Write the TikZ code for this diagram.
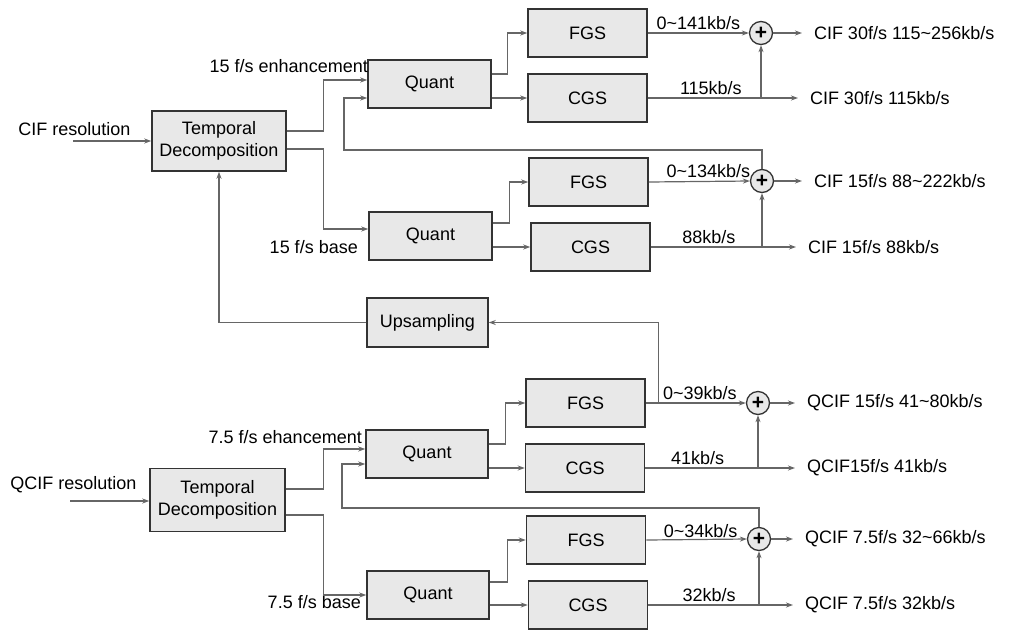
\documentclass[tikz,border=0pt]{standalone}
\usepackage{fontspec}
\setmainfont{Liberation Sans}
\usetikzlibrary{calc,arrows,arrows.meta,positioning}
\tikzset{
    >={Stealth[length=7pt,width=5pt]},
    block/.style={
        rectangle,
        draw=black!80, line width=1.5pt,
        fill=gray!18,
        minimum width=119pt,
        minimum height=48pt,
        text centered
    },
    sum/.style={circle, draw=black!80, line width=1.3pt, fill=gray!18,
        minimum size=23pt, inner sep=0pt, font=\fontsize{21}{21}\selectfont\bfseries},
    line/.style={draw=black!60, line width=1.2pt},
    arr/.style={line, ->},
    lbl/.style={inner sep=0pt, anchor=base},
    rate/.style={inner sep=0pt, anchor=base, yshift=4pt},
    outlbl/.style={anchor=west, inner sep=0pt, outer xsep=12pt}
}

\begin{document}
\begin{tikzpicture}[x=1pt, y=-1pt, font=\fontsize{18}{22}\selectfont]
\useasboundingbox (0,0) rectangle (1012,630);

% CIF part
\node[block, minimum width=134pt, minimum height=60pt, align=center] (tdcif) at (219,141) {Temporal\\Decomposition};
\node[block, minimum width=123pt] (qenh) at (429.5,84) {Quant};
\node[block, minimum width=123pt] (qbase) at (430.5,236) {Quant};
\node[block] (fgsa) at (587.5,33) {FGS};
\node[block] (cgsa) at (587.5,98) {CGS};
\node[block] (fgsb) at (588.5,182) {FGS};
\node[block] (cgsb) at (590.5,247) {CGS};
\node[sum] (suma) at (761,33) {+};
\node[sum] (sumb) at (762,181) {+};
\node[block, minimum width=121pt, minimum height=49pt] (upsamp) at (427.5,322.5) {Upsampling};

\node[lbl] (cifres) at (74.5,135) {CIF resolution};
\node[lbl, anchor=base east] (enhcif) at (368,72) {15 f/s enhancement};
\node[lbl, anchor=base east] (basecif) at (358,253) {15 f/s base};
\node[outlbl] (outa) at (802,33) {CIF 30f/s 115\textasciitilde256kb/s};
\node[outlbl] (outb) at (798,98) {CIF 30f/s 115kb/s};
\node[outlbl] (outc) at (802,181) {CIF 15f/s 88\textasciitilde222kb/s};
\node[outlbl] (outd) at (796,247) {CIF 15f/s 88kb/s};

\coordinate (cifin) at (73,141);
\coordinate (fbcif) at (344,150);

\draw[arr] (cifin) -- (tdcif.west);
\draw[arr] ([yshift=10pt]tdcif.east) -- ++(37,0) |- ([yshift=4pt]qenh.west);
\draw[arr] ([yshift=-8pt]tdcif.east) -- ++(37,0) |- ([yshift=7pt]qbase.west);
\draw[arr] ([yshift=10pt]qenh.east) -- ++(16,0) |- (fgsa.west);
\draw[arr] (qenh.east |- cgsa.west) -- (cgsa.west);
\draw[arr] ([yshift=13pt]qbase.east) -- ++(17,0) |- (fgsb.west);
\draw[arr] (qbase.east |- cgsb.west) -- (cgsb.west);
\draw[arr] (fgsa.east) -- node[rate] {0\textasciitilde141kb/s} (suma.west);
\draw[arr] (cgsa.east) -- node[rate, pos=0.42] {115kb/s} (outb.west);
\draw[arr] (suma |- cgsa.east) -- (suma.south);
\draw[arr] (suma.east) -- (outa.west);
\draw[arr] (fgsb.east) -- node[rate, pos=0.59] {0\textasciitilde134kb/s} (sumb.west);
\draw[arr] (cgsb.east) -- node[rate, pos=0.4] {88kb/s} (outd.west);
\draw[arr] (sumb |- cgsb.east) -- (sumb.south);
\draw[arr] (sumb.east) -- (outc.west);
\draw[arr] (sumb.north) |- (fbcif) |- ([yshift=-14pt]qenh.west);
\draw[arr] (upsamp.west) -| (tdcif.south);

% QCIF part
\node[block, minimum width=135pt, minimum height=63pt, align=center] (tdqcif) at (217.5,500) {Temporal\\Decomposition};
\node[block, minimum width=122pt] (qenhq) at (427,454) {Quant};
\node[block, minimum width=122pt] (qbaseq) at (428,595) {Quant};
\node[block] (fgsc) at (585.5,403) {FGS};
\node[block] (cgsc) at (585,468) {CGS};
\node[block] (fgsd) at (586,540) {FGS};
\node[block] (cgsd) at (588,605) {CGS};
\node[sum] (sumc) at (758,403) {+};
\node[sum] (sumd) at (759,539) {+};

\node[lbl] (qcifres) at (73.5,489) {QCIF resolution};
\node[lbl, anchor=base east] (enhqcif) at (362,443) {7.5 f/s ehancement};
\node[lbl, anchor=base east] (baseqcif) at (361,608) {7.5 f/s base};
\node[outlbl] (oute) at (795,403) {QCIF 15f/s 41\textasciitilde80kb/s};
\node[outlbl] (outf) at (795,468) {QCIF15f/s 41kb/s};
\node[outlbl] (outg) at (793,539) {QCIF 7.5f/s 32\textasciitilde66kb/s};
\node[outlbl] (outh) at (793,605) {QCIF 7.5f/s 32kb/s};

\coordinate (qcifin) at (70,501);
\coordinate (fbqcif) at (342,508);
\coordinate (uptap) at ($(fgsc.east)+(13,0)$);

\draw[arr] (qcifin) -- (qcifin -| tdqcif.west);
\draw[arr] ([yshift=11pt]tdqcif.east) -- ++(38,0) |- ([yshift=5pt]qenhq.west);
\draw[arr] ([yshift=-15pt]tdqcif.east) -- ++(38,0) |- (qbaseq.west);
\draw[arr] ([yshift=10pt]qenhq.east) -- ++(17,0) |- (fgsc.west);
\draw[arr] (qenhq.east |- cgsc.west) -- (cgsc.west);
\draw[arr] ([yshift=13pt]qbaseq.east) -- ++(18,0) |- (fgsd.west);
\draw[arr] (qbaseq.east |- cgsd.west) -- (cgsd.west);
\draw[arr] (fgsc.east) -- node[rate, pos=0.54] {0\textasciitilde39kb/s} (sumc.west);
\draw[arr] (cgsc.east) -- node[rate, pos=0.35] {41kb/s} (outf.west);
\draw[arr] (sumc |- cgsc.east) -- (sumc.south);
\draw[arr] (sumc.east) -- (oute.west);
\draw[arr] (fgsd.east) -- node[rate, pos=0.54, yshift=-2pt] {0\textasciitilde34kb/s} (sumd.west);
\draw[arr] (cgsd.east) -- node[rate, pos=0.42] {32kb/s} (outh.west);
\draw[arr] (sumd |- cgsd.east) -- (sumd.south);
\draw[arr] (sumd.east) -- (outg.west);
\draw[arr] (sumd.north) |- (fbqcif) |- ([yshift=-10pt]qenhq.west);
\draw[arr] (uptap) |- (upsamp.east);
\end{tikzpicture}
\end{document}
